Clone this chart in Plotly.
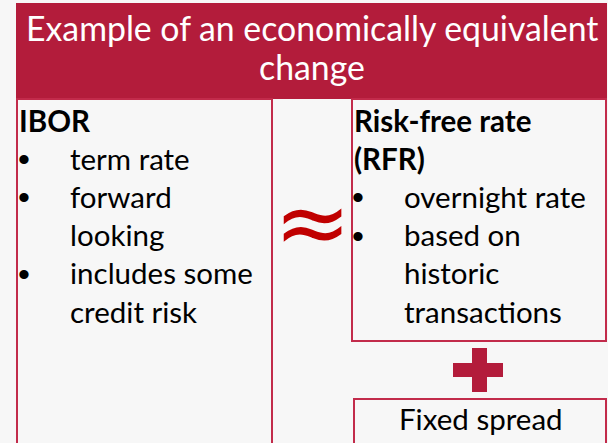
import plotly.graph_objects as go

W, H = 608, 443
FONT = "Lato"
RED = "#b31c3b"
LINE = "#c22b4b"
BG = "#f7f7f7"

title_lines = ["Example of an economically equivalent", "change"]
left_heading = "IBOR"
left_items = [("term rate", True), ("forward", True), ("looking", False),
              ("includes some", True), ("credit risk", False)]
right_heading = ["Risk-free rate", "(RFR)"]
right_items = [("overnight rate", True), ("based on", True), ("historic", False),
               ("transactions", False)]
spread_label = "Fixed spread"
approx_symbol = "≈"

fig = go.Figure()
fig.update_layout(
    width=W, height=H, margin=dict(l=0, r=0, t=0, b=0),
    paper_bgcolor=BG, plot_bgcolor=BG, showlegend=False,
    xaxis=dict(range=[0, W], visible=False, fixedrange=True),
    yaxis=dict(range=[H, 0], visible=False, fixedrange=True),
)

shapes = []
# header
shapes.append(dict(type="rect", x0=16, x1=607, y0=3, y1=99, fillcolor=RED, line=dict(width=0)))
# left box
shapes.append(dict(type="rect", x0=17, x1=272, y0=99, y1=460, line=dict(color=LINE, width=2)))
# right box
shapes.append(dict(type="rect", x0=352, x1=606, y0=99, y1=341, line=dict(color=LINE, width=2)))
# spread box
shapes.append(dict(type="rect", x0=354, x1=606, y0=399, y1=460, line=dict(color=LINE, width=2)))
# plus sign
shapes.append(dict(type="rect", x0=453, x1=503, y0=363, y1=377, fillcolor=RED, line=dict(width=0)))
shapes.append(dict(type="rect", x0=472, x1=487, y0=348, y1=392, fillcolor=RED, line=dict(width=0)))
for s in shapes:
    s.update(xref="x", yref="y", layer="below")
fig.update_layout(shapes=shapes)

ann = []
def txt(x, y, t, size, color="black", bold=False, xanchor="left", family=FONT):
    ann.append(dict(x=x, y=y, xref="x", yref="y", text=f"<b>{t}</b>" if bold else t,
                    showarrow=False, xanchor=xanchor, yanchor="middle",
                    font=dict(family=family, size=size, color=color)))

TS = 33.8
txt(312, 28, title_lines[0], TS, "white", xanchor="center")
txt(312, 67, title_lines[1], TS, "white", xanchor="center")

BS = 29.5
SP = 38.2
y0 = 120
BUL = 34
txt(17, y0, left_heading, BS, bold=True)
for i, (t, b) in enumerate(left_items):
    y = y0 + SP * (i + 1)
    if b:
        txt(24, y + 1, "•", BUL, xanchor="center", family="Liberation Sans")
    txt(68, y, t, BS)

txt(352, y0, right_heading[0], BS, bold=True)
txt(352, y0 + SP, right_heading[1], BS, bold=True)
for i, (t, b) in enumerate(right_items):
    y = y0 + SP * (i + 2)
    if b:
        txt(358, y + 1, "•", BUL, xanchor="center", family="Liberation Sans")
    txt(402, y, t, BS)

txt(481, 418, spread_label, BS, xanchor="center")
ann.append(dict(x=312.5, y=222, xref="x", yref="y", text=approx_symbol, showarrow=False,
                xanchor="center", yanchor="middle",
                font=dict(family="DejaVu Sans", size=92, color="#c00000")))
fig.update_layout(annotations=ann)

fig.write_html("out.html", config={"displayModeBar": False},
               post_script="document.body.style.margin='0';document.body.style.background='#f7f7f7';")
